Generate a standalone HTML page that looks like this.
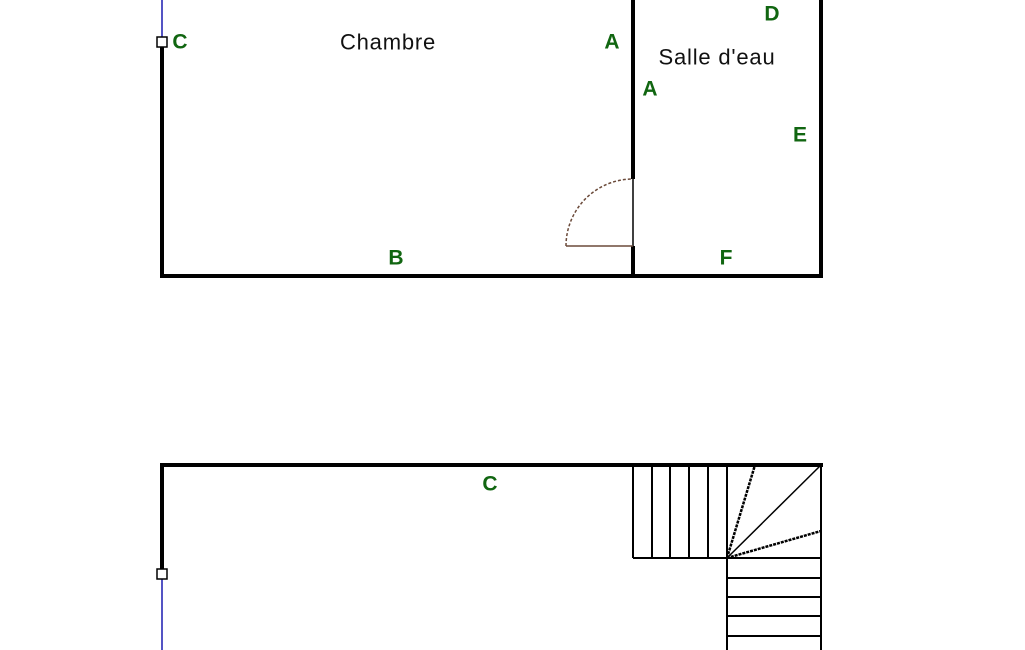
<!DOCTYPE html>
<html><head><style>
body{margin:0;background:#fff;}
svg{display:block}
.l{font-family:"Liberation Sans",sans-serif;font-size:21px;font-weight:bold;fill:#116611;text-anchor:middle;dominant-baseline:central}
.t{font-family:"Liberation Sans",sans-serif;font-size:22px;letter-spacing:0.8px;fill:#111;text-anchor:middle;dominant-baseline:central}
</style></head><body>
<svg width="1025" height="650" viewBox="0 0 1025 650">
<g stroke="#000" stroke-width="4" fill="none">
<line x1="162" y1="47" x2="162" y2="277"/>
<line x1="160" y1="276" x2="823" y2="276"/>
<line x1="821" y1="0" x2="821" y2="278"/>
<line x1="633" y1="0" x2="633" y2="179"/>
<line x1="633" y1="246" x2="633" y2="277"/>
<line x1="160" y1="465" x2="823" y2="465"/>
<line x1="162" y1="463" x2="162" y2="569"/>
</g>
<line x1="633" y1="179" x2="633" y2="246" stroke="#000" stroke-width="1.5"/>
<line x1="566" y1="246" x2="633" y2="246" stroke="#6b4a3a" stroke-width="1.5"/>
<path d="M566 246 A67 67 0 0 1 633 179" stroke="#6b4a3a" stroke-width="1.5" fill="none" stroke-dasharray="3 2"/>
<line x1="162" y1="0" x2="162" y2="37" stroke="#1a1ab0" stroke-width="1.5"/>
<rect x="157" y="37" width="10" height="10" fill="#fff" stroke="#000" stroke-width="1.5"/>
<line x1="162" y1="579" x2="162" y2="650" stroke="#1a1ab0" stroke-width="1.5"/>
<rect x="157" y="569" width="10" height="10" fill="#fff" stroke="#000" stroke-width="1.5"/>
<g stroke="#000" stroke-width="2" fill="none">
<line x1="633" y1="465" x2="633" y2="558"/>
<line x1="652" y1="465" x2="652" y2="558"/>
<line x1="670" y1="465" x2="670" y2="558"/>
<line x1="689" y1="465" x2="689" y2="558"/>
<line x1="708" y1="465" x2="708" y2="558"/>
<line x1="727" y1="465" x2="727" y2="650"/>
<line x1="633" y1="558" x2="821" y2="558"/>
<line x1="821" y1="465" x2="821" y2="650"/>
<line x1="727" y1="558" x2="821" y2="465" stroke-width="1.5"/>
<line x1="727" y1="558" x2="755" y2="465" stroke-width="2.5" stroke-dasharray="3 1"/>
<line x1="727" y1="558" x2="821" y2="531" stroke-width="2.5" stroke-dasharray="3 1"/>
<line x1="727" y1="578" x2="821" y2="578"/>
<line x1="727" y1="597" x2="821" y2="597"/>
<line x1="727" y1="616" x2="821" y2="616"/>
<line x1="727" y1="636" x2="821" y2="636"/>
</g>
<text class="l" x="180" y="42">C</text>
<text class="l" x="612" y="42">A</text>
<text class="l" x="650" y="89">A</text>
<text class="l" x="772" y="14">D</text>
<text class="l" x="800" y="135">E</text>
<text class="l" x="726" y="258">F</text>
<text class="l" x="396" y="258">B</text>
<text class="l" x="490" y="484">C</text>
<text class="t" x="388" y="42">Chambre</text>
<text class="t" x="717" y="57">Salle d'eau</text>
</svg>
</body></html>
